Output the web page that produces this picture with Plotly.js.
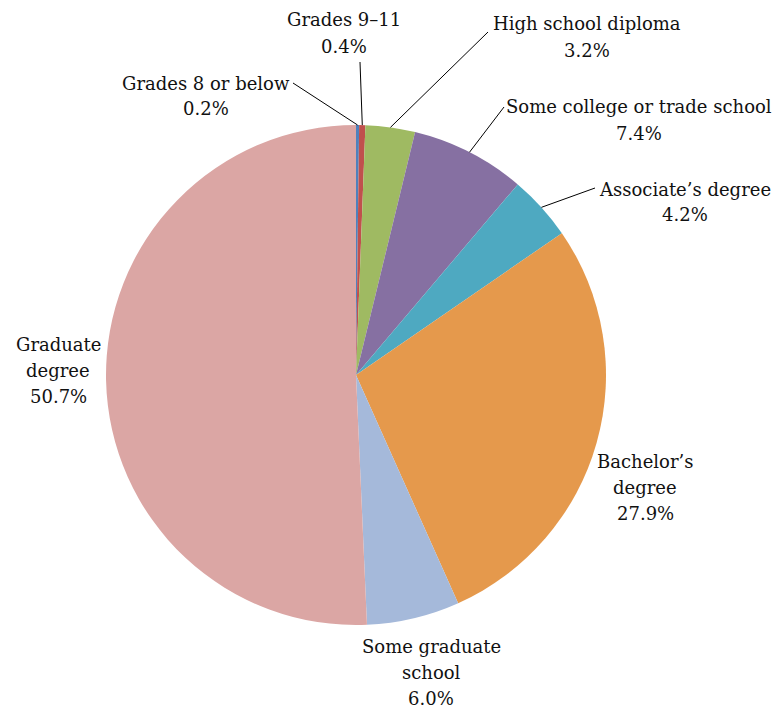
<!DOCTYPE html>
<html>
<head>
<meta charset="utf-8">
<script src="https://cdn.plot.ly/plotly-3.0.1.min.js"></script>
<style>html,body{margin:0;padding:0;background:#fff;}#chart{width:773px;height:709px;}</style>
</head>
<body>
<div id="chart"></div>
<script>
// Data
const categories = ["Grades 8 or below", "Grades 9–11", "High school diploma", "Some college or trade school", "Associate’s degree", "Bachelor’s degree", "Some graduate school", "Graduate degree"];
const values = [0.2, 0.4, 3.2, 7.4, 4.2, 27.9, 6.0, 50.7];
const labelLines = [["Grades 8 or below", "0.2%"], ["Grades 9–11", "0.4%"], ["High school diploma", "3.2%"], ["Some college or trade school", "7.4%"], ["Associate’s degree", "4.2%"], ["Bachelor’s", "degree", "27.9%"], ["Some graduate", "school", "6.0%"], ["Graduate", "degree", "50.7%"]];
const colors = ["#4f81bd", "#c0504d", "#9fba62", "#8670a2", "#4ea9c1", "#e5994c", "#a5b9da", "#dba6a4"];

// Layout geometry (pixels)
const W = 773, H = 709;
const cx = 356, cy = 375, R = 250;
const LINE_GAP = 26;
// label placement: first-line centre x, y; leader tail (or null)
const labelPos = [
  {x: 206, y: 83, tail: [293, 83]},
  {x: 344, y: 20, tail: [360, 62]},
  {x: 587, y: 24, tail: [488, 32]},
  {x: 639, y: 107, tail: [504, 107]},
  {x: 685, y: 189, tail: [595, 188]},
  {x: 645, y: 461, tail: null},
  {x: 431, y: 646, tail: null},
  {x: 58, y: 344, tail: null}
];
const FONT = "'DejaVu Serif', serif";

const total = values.reduce((a, b) => a + b, 0);
const annotations = [];
const shapes = [];
let cum = 0;
values.forEach((v, i) => {
  const mid = (cum + v / 2) / total;
  cum += v;
  const ang = mid * 2 * Math.PI;
  const tx = cx + R * Math.sin(ang);
  const ty = cy - R * Math.cos(ang);
  const p = labelPos[i];
  labelLines[i].forEach((t, k) => {
    annotations.push({
      text: t, xref: 'paper', yref: 'paper',
      x: p.x / W, y: 1 - (p.y + k * LINE_GAP) / H,
      xanchor: 'center', yanchor: 'middle', showarrow: false,
      font: {family: FONT, size: 18, color: '#111'}
    });
  });
  if (p.tail) {
    shapes.push({
      type: 'line', xref: 'paper', yref: 'paper',
      x0: p.tail[0] / W, y0: 1 - p.tail[1] / H,
      x1: tx / W, y1: 1 - ty / H,
      line: {color: '#000', width: 1}
    });
  }
});

const trace = {
  type: 'pie',
  labels: categories,
  values: values,
  sort: false,
  direction: 'clockwise',
  rotation: 0,
  textinfo: 'none',
  hoverinfo: 'label+percent',
  marker: {colors: colors, line: {width: 0}},
  domain: {x: [(cx - R) / W, (cx + R) / W], y: [1 - (cy + R) / H, 1 - (cy - R) / H]},
  showlegend: false
};

const layout = {
  width: W, height: H,
  margin: {l: 0, r: 0, t: 0, b: 0},
  paper_bgcolor: '#fff',
  font: {family: FONT},
  showlegend: false,
  annotations: annotations,
  shapes: shapes
};

Plotly.newPlot('chart', [trace], layout, {displayModeBar: false, staticPlot: true});
</script>
</body>
</html>
